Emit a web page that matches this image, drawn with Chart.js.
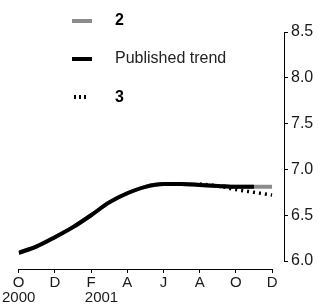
<!DOCTYPE html>
<html>
<head>
<meta charset="utf-8">
<script src="https://cdn.jsdelivr.net/npm/chart.js@4/dist/chart.umd.min.js"></script>
<style>
  body { margin: 0; background: #fff; }
  #wrap { position: relative; width: 319px; height: 307px; }
  .legText { position: absolute; left: 115px; height: 18px; line-height: 18px; font-family: "Liberation Sans", Arial, sans-serif; font-size: 16px; color: #222; }
  .legText.bold { font-weight: bold; color: #000; }
  .swatch { position: absolute; left: 72px; width: 20px; height: 4px; }
</style>
</head>
<body>
<div id="wrap">
  <canvas id="chart" width="319" height="307"></canvas>
  <div class="swatch" style="top:19px;background:#8c8c8c;"></div>
  <div class="legText bold" style="top:11px;">2</div>
  <div class="swatch" style="top:57px;background:#000;"></div>
  <div class="legText" style="top:49px;">Published trend</div>
  <div class="swatch" style="top:95px;width:14px;left:74px;background:repeating-linear-gradient(to right,#000 0 2px,transparent 2px 5px);"></div>
  <div class="legText bold" style="top:88px;">3</div>
</div>
<script>
// Data: months from Oct 2000 (index 0) to Dec 2001 (index 14)
const months = ["O", "N", "D", "J", "F", "M", "A", "M", "J", "J", "A", "S", "O", "N", "D"];
const publishedTrend = [6.09, 6.16, 6.26, 6.37, 6.50, 6.64, 6.74, 6.81, 6.84, 6.84, 6.83, 6.82, 6.81, 6.81, null];
const series2 = [6.09, 6.16, 6.26, 6.37, 6.50, 6.64, 6.74, 6.81, 6.84, 6.84, 6.83, 6.82, 6.81, 6.81, 6.81];
const series3 = [null, null, null, null, null, null, null, null, null, null, 6.84, 6.82, 6.78, 6.75, 6.72];

// Tick labels
const xTicks = [0, 2, 4, 6, 8, 10, 12, 14];
const yearLabels = { 0: "2000", 4: "     2001" };
const yTicks = [6.0, 6.5, 7.0, 7.5, 8.0, 8.5];

const toPoints = (values) => values.map((v, i) => ({ x: i, y: v }));

const fontFamily = "'Liberation Sans', Arial, sans-serif";

// draws the short axis lines (they do not span the whole chart area)
const axisLines = {
  id: "axisLines",
  afterDraw(chart) {
    const ctx = chart.ctx;
    const x = chart.scales.x;
    const y = chart.scales.y;
    const area = chart.chartArea;
    ctx.save();
    ctx.strokeStyle = "#000";
    ctx.lineWidth = 1;
    ctx.beginPath();
    ctx.moveTo(x.getPixelForValue(0), Math.round(area.bottom) + 0.5);
    ctx.lineTo(x.getPixelForValue(14) + 0.5, Math.round(area.bottom) + 0.5);
    ctx.moveTo(Math.round(area.right) + 0.5, y.getPixelForValue(8.5));
    ctx.lineTo(Math.round(area.right) + 0.5, y.getPixelForValue(6.0) + 0.5);
    ctx.stroke();
    ctx.restore();
  }
};

const chart = new Chart(document.getElementById("chart"), {
  type: "line",
  data: {
    datasets: [
      {
        label: "Published trend",
        data: toPoints(publishedTrend),
        borderColor: "#000",
        borderWidth: 4,
        pointRadius: 0,
        cubicInterpolationMode: "monotone"
      },
      {
        label: "3",
        data: toPoints(series3),
        borderColor: "#000",
        borderWidth: 3.5,
        borderDash: [2, 4],
        pointRadius: 0,
        cubicInterpolationMode: "monotone"
      },
      {
        label: "2",
        data: toPoints(series2),
        borderColor: "#8c8c8c",
        borderWidth: 4,
        pointRadius: 0,
        cubicInterpolationMode: "monotone"
      }
    ]
  },
  options: {
    responsive: false,
    animation: false,
    devicePixelRatio: 1,
    layout: { padding: { left: 16, top: 32, right: 0, bottom: 0 } },
    plugins: { legend: { display: false }, tooltip: { enabled: false } },
    scales: {
      x: {
        type: "linear",
        min: 0,
        max: 14.66,
        afterBuildTicks: (scale) => { scale.ticks = xTicks.map((v) => ({ value: v })); },
        afterFit: (scale) => { scale.height = 38; },
        grid: { drawOnChartArea: false, drawTicks: true, tickLength: 4, color: "#000" },
        border: { display: false },
        ticks: {
          autoSkip: false,
          maxRotation: 0,
          padding: 2,
          color: "#1a1a1a",
          font: { family: fontFamily, size: 15, lineHeight: 1 },
          callback: (value) => yearLabels[value] ? [months[value], yearLabels[value]] : months[value]
        }
      },
      y: {
        position: "right",
        min: 5.913,
        max: 8.5,
        afterBuildTicks: (scale) => { scale.ticks = yTicks.map((v) => ({ value: v })); },
        afterFit: (scale) => { scale.width = 35; },
        grid: { drawOnChartArea: false, drawTicks: true, tickLength: 4, color: "#000" },
        border: { display: false },
        ticks: {
          padding: 3,
          color: "#1a1a1a",
          font: { family: fontFamily, size: 16 },
          callback: (value) => value.toFixed(1)
        }
      }
    }
  },
  plugins: [axisLines]
});
</script>
</body>
</html>
